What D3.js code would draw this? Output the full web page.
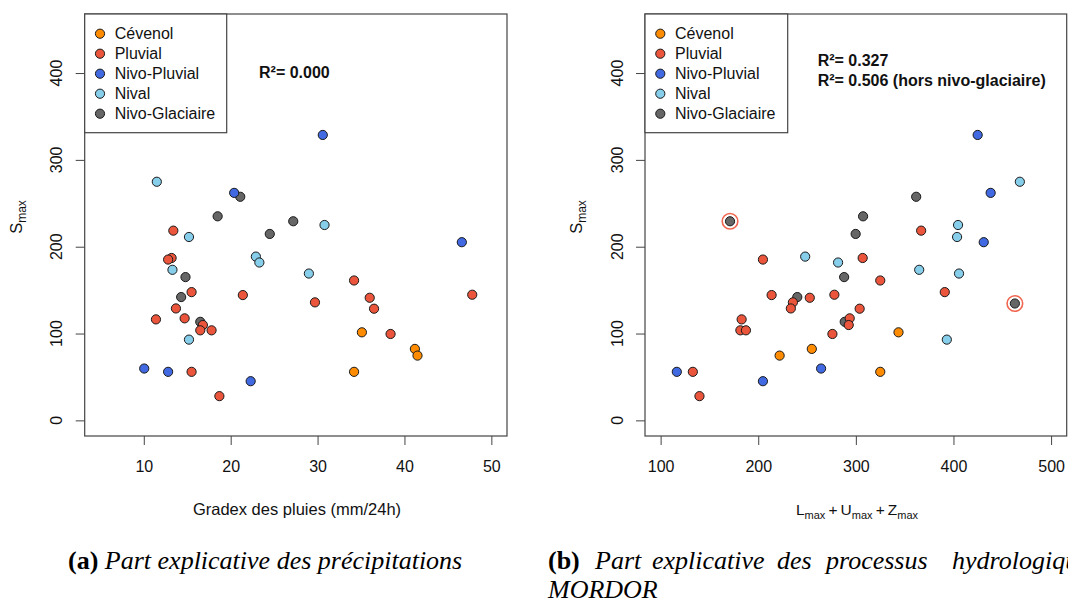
<!DOCTYPE html>
<html><head><meta charset="utf-8">
<script src="https://cdn.jsdelivr.net/npm/d3@7"></script>
<style>
body{margin:0;background:#fff;}
svg{display:block;font-family:"Liberation Sans",Arial,sans-serif;}
</style></head>
<body><svg id="c" width="1068" height="604"></svg>
<script>
// ---- Data (per regime: Smax, gradex des pluies, Lmax+Umax+Zmax) ----
const categories = ["Cévenol","Pluvial","Nivo-Pluvial","Nival","Nivo-Glaciaire"];
const colors = ["#FF8C00","#EA553B","#4169E1","#87CEEB","#666666"];

const smaxCevenol = [101.4, 82.3, 74.6, 55.9];
const gradexCevenol = [35.1, 41.2, 41.5, 34.2];
const lumzCevenol = [343.7, 254.9, 221.9, 325.0];

const smaxPluvial = [218.5,187.0,185.2,161.1,147.7,144.7,144.3,141.2,135.9,128.9,128.6,117.5,116.3,109.8,103.7,103.7,99.5,55.9,27.9];
const gradexPluvial = [13.4,13.2,12.8,34.2,15.5,47.8,21.4,36.0,29.7,13.7,36.5,14.7,11.4,16.8,16.5,17.8,38.4,15.5,18.7];
const lumzPluvial = [366.9,307.0,204.8,325.0,391.1,278.0,213.7,252.8,235.5,233.4,303.9,293.7,183.0,292.7,181.7,187.4,276.0,133.0,139.8];

const smaxNivoPluvial = [328.7, 262.0, 205.2, 59.7, 55.9, 45.1];
const gradexNivoPluvial = [30.6, 20.4, 46.6, 10.05, 12.8, 22.3];
const lumzNivoPluvial = [424.8, 438.1, 431.0, 264.4, 116.6, 204.8];

const smaxNival = [274.8, 225.0, 211.2, 188.6, 181.8, 173.4, 169.1, 93.0];
const gradexNival = [11.5, 30.8, 15.2, 22.9, 23.3, 13.3, 29.0, 15.2];
const lumzNival = [468.0, 404.7, 403.7, 248.1, 281.8, 364.9, 405.7, 393.2];

const smaxNivoGlaciaire = [257.5, 235.0, 229.3, 214.7, 165.0, 142.0, 113.5, 134.6];
const gradexNivoGlaciaire = [21.1, 18.5, 27.2, 24.5, 14.8, 14.3, 16.5, null];
const lumzNivoGlaciaire = [361.8, 307.4, 171.1, 299.8, 288.0, 240.0, 288.6, 462.9];
const circledNivoGlaciaire = [false, false, true, false, false, false, false, true];

const yTicks = [0, 100, 200, 300, 400];
const xTicksA = [10, 20, 30, 40, 50];
const xTicksB = [100, 200, 300, 400, 500];
const r2A = ["R²= 0.000"];
const r2B = ["R²= 0.327", "R²= 0.506 (hors nivo-glaciaire)"];

const smaxAll = [smaxCevenol, smaxPluvial, smaxNivoPluvial, smaxNival, smaxNivoGlaciaire];
const gradexAll = [gradexCevenol, gradexPluvial, gradexNivoPluvial, gradexNival, gradexNivoGlaciaire];
const lumzAll = [lumzCevenol, lumzPluvial, lumzNivoPluvial, lumzNival, lumzNivoGlaciaire];

// ---- Drawing ----
const svg = d3.select("#c");
const drawOrder = [4, 3, 2, 1, 0];
const FS = 16;

function rExt(lo, hi){ const d = (hi - lo) * 0.04; return [lo - d, hi + d]; }

function panel(opt){
  const g = svg.append("g");
  const x = d3.scaleLinear().domain(rExt(opt.xlim[0], opt.xlim[1])).range([opt.left, opt.right]);
  const y = d3.scaleLinear().domain(rExt(0, 450)).range([436, 14]);
  const stroke = "#444";

  // x axis
  const xa = g.append("g").attr("transform", "translate(0,436)")
    .call(d3.axisBottom(x).tickValues(opt.xTicks).tickSize(9).tickPadding(16).tickFormat(d3.format("d")));
  xa.select(".domain").remove();
  xa.selectAll("line").attr("stroke", stroke);
  xa.selectAll("text").attr("font-size", FS).attr("fill", "#111").attr("font-family", "Liberation Sans, Arial, sans-serif");

  // y axis
  const ya = g.append("g").attr("transform", `translate(${opt.left},0)`)
    .call(d3.axisLeft(y).tickValues(yTicks).tickSize(9).tickFormat(""));
  ya.select(".domain").remove();
  ya.selectAll("line").attr("stroke", stroke);
  g.selectAll(".ylab").data(yTicks).enter().append("text")
    .attr("transform", d => `translate(${opt.left - 28},${y(d)}) rotate(-90)`)
    .attr("text-anchor", "middle").attr("dominant-baseline", "central")
    .attr("font-size", FS).attr("fill", "#111").text(d => d);

  // box
  g.append("rect").attr("x", opt.left).attr("y", 14)
    .attr("width", opt.right - opt.left).attr("height", 422)
    .attr("fill", "none").attr("stroke", stroke).attr("stroke-width", 1.2);

  // y label S_max
  const yl = g.append("text").attr("transform", `translate(${opt.left - 63},217) rotate(-90)`)
    .attr("text-anchor", "middle").attr("font-size", 16.5).attr("fill", "#111");
  yl.append("tspan").text("S");
  yl.append("tspan").attr("font-size", 12).attr("dy", 4).text("max");

  // x label
  const xl = g.append("text").attr("x", opt.xTitleX).attr("y", 515)
    .attr("text-anchor", "middle").attr("font-size", opt.xTitleFS).attr("fill", "#111");
  opt.xTitle.forEach((p, i) => {
    xl.append("tspan").attr("dy", i === 0 ? 0 : (p.sub ? 4 : -4)).attr("font-size", p.sub ? 11 : opt.xTitleFS).text(p.t);
  });

  // points
  drawOrder.forEach(ci => {
    const xs = opt.xs[ci], ys = smaxAll[ci];
    const pts = ys.map((v, i) => ({x: xs[i], y: v, i})).filter(p => p.x != null);
    if (opt.circles && ci === 4) {
      g.selectAll(null).data(pts.filter(p => circledNivoGlaciaire[p.i])).enter().append("circle")
        .attr("cx", p => x(p.x)).attr("cy", p => y(p.y)).attr("r", 7.8)
        .attr("fill", "none").attr("stroke", "#F0654E").attr("stroke-width", 1.6);
    }
    g.selectAll(null).data(pts).enter().append("circle")
      .attr("cx", p => x(p.x)).attr("cy", p => y(p.y)).attr("r", 4.6)
      .attr("fill", colors[ci]).attr("stroke", "#1a1a1a").attr("stroke-width", 1);
  });

  // legend
  const lg = g.append("g");
  lg.append("rect").attr("x", opt.left).attr("y", 14).attr("width", opt.legendW).attr("height", 118.7)
    .attr("fill", "#fff").attr("stroke", stroke).attr("stroke-width", 1.2);
  categories.forEach((c, i) => {
    lg.append("circle").attr("cx", opt.left + 15.3).attr("cy", 33.7 + i * 20).attr("r", 4.6)
      .attr("fill", colors[i]).attr("stroke", "#1a1a1a").attr("stroke-width", 1);
    lg.append("text").attr("x", opt.left + 30).attr("y", 33.7 + i * 20).attr("dominant-baseline", "central")
      .attr("font-size", FS).attr("fill", "#111").text(c);
  });

  // R²
  opt.r2.forEach((t, i) => {
    g.append("text").attr("x", opt.r2x).attr("y", opt.r2y + i * 20).attr("dominant-baseline", "central")
      .attr("font-size", FS).attr("font-weight", "bold").attr("fill", "#111").text(t);
  });
}

panel({left: 84.7, right: 507, xlim: [5, 50], xTicks: xTicksA, xs: gradexAll,
  xTitleX: 297, xTitleFS: 16.5, xTitle: [{t: "Gradex des pluies (mm/24h)"}],
  legendW: 142, r2: r2A, r2x: 259, r2y: 72, circles: false});
panel({left: 645, right: 1066.7, xlim: [100, 500], xTicks: xTicksB, xs: lumzAll,
  xTitleX: 857, xTitleFS: 15.5,
  xTitle: [{t: "L"}, {t: "max", sub: true}, {t: "\u2009+\u2009U"}, {t: "max", sub: true}, {t: "\u2009+\u2009Z"}, {t: "max", sub: true}],
  legendW: 142.7, r2: r2B, r2x: 817.7, r2y: 60, circles: true});

// captions
const serif = "Liberation Serif, Times New Roman, serif";
const CFS = 26;
const capA = svg.append("text").attr("x", 68).attr("y", 569).attr("font-family", serif).attr("font-size", CFS).attr("fill", "#000");
capA.append("tspan").attr("font-weight", "bold").text("(a)");
capA.append("tspan").attr("font-style", "italic").text(" Part explicative des précipitations");

const capBWords = [["(b)", 548, true], ["Part", 595, false], ["explicative", 652, false], ["des", 777, false],
  ["processus", 826, false], ["hydrologiques", 952, false]];
capBWords.forEach(w => {
  svg.append("text").attr("x", w[1]).attr("y", 569).attr("font-family", serif).attr("font-size", CFS)
    .attr("font-weight", w[2] ? "bold" : "normal").attr("font-style", w[2] ? "normal" : "italic").text(w[0]);
});
svg.append("text").attr("x", 548).attr("y", 598).attr("font-family", serif).attr("font-size", CFS)
  .attr("font-style", "italic").text("MORDOR");
</script></body></html>
